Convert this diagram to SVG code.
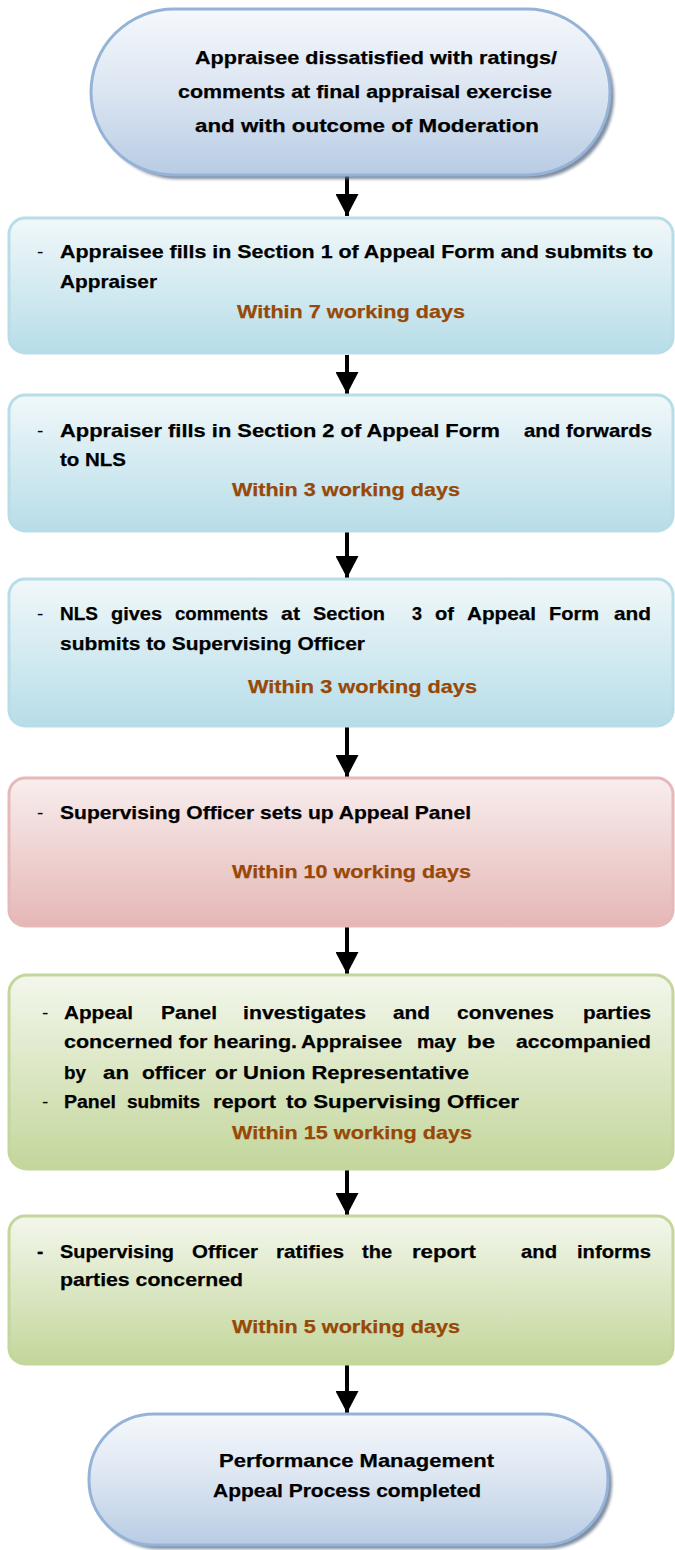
<svg xmlns="http://www.w3.org/2000/svg" width="675" height="1550" viewBox="0 0 675 1550">
<style>
  text { font-family: "Liberation Sans", Arial, sans-serif; font-size: 19px; font-weight: bold; fill: #000; stroke: #000; stroke-width: 0.25; }
  .due { fill: #984807; stroke: #984807; }
  .dash { font-weight: normal; stroke-width: 0; }
  .pill { fill: url(#gPill); stroke: #95b3d7; stroke-width: 3; }
  .blue { fill: url(#gBlue); stroke: #b7dde8; stroke-width: 3; }
  .pink { fill: url(#gPink); stroke: #e6b9b8; stroke-width: 3; }
  .green { fill: url(#gGreen); stroke: #c3d69b; stroke-width: 3; }
  .shadow { fill: #5f6f86; opacity: 0.8; filter: url(#blur); }
  .conn { stroke: #000; stroke-width: 4; fill: none; marker-end: url(#arrow); }
</style>
<defs>
  <linearGradient id="gPill" x1="0" y1="0" x2="0" y2="1">
    <stop offset="0" stop-color="#f5f8fc"/>
    <stop offset="0.5" stop-color="#dbe5f1"/>
    <stop offset="1" stop-color="#b8cce4"/>
  </linearGradient>
  <linearGradient id="gBlue" x1="0" y1="0" x2="0" y2="1">
    <stop offset="0" stop-color="#f1f8fa"/>
    <stop offset="1" stop-color="#b7dde8"/>
  </linearGradient>
  <linearGradient id="gPink" x1="0" y1="0" x2="0" y2="1">
    <stop offset="0" stop-color="#f8eeee"/>
    <stop offset="1" stop-color="#e5b7b6"/>
  </linearGradient>
  <linearGradient id="gGreen" x1="0" y1="0" x2="0" y2="1">
    <stop offset="0" stop-color="#f3f7ec"/>
    <stop offset="1" stop-color="#c3d69b"/>
  </linearGradient>
  <filter id="blur" x="-5%" y="-5%" width="110%" height="115%">
    <feGaussianBlur stdDeviation="1.5"/>
  </filter>
  <marker id="arrow" markerUnits="userSpaceOnUse" markerWidth="24" markerHeight="23" refX="23" refY="12" orient="auto" viewBox="0 0 23 24">
    <path d="M0,0 L23,12 L0,24 Z" fill="#000"/>
  </marker>
</defs>

<g id="connectors">
  <line class="conn" x1="347" y1="176" x2="347" y2="216"/>
  <line class="conn" x1="347" y1="355" x2="347" y2="394"/>
  <line class="conn" x1="347" y1="532" x2="347" y2="578"/>
  <line class="conn" x1="347" y1="727" x2="347" y2="777"/>
  <line class="conn" x1="347" y1="927" x2="347" y2="974"/>
  <line class="conn" x1="347" y1="1170" x2="347" y2="1215"/>
  <line class="conn" x1="347" y1="1365" x2="347" y2="1413"/>
</g>

<g id="start">
  <rect class="shadow" x="95" y="13" width="519" height="166" rx="83" ry="83"/>
  <rect class="pill" x="91" y="9" width="519" height="166" rx="83" ry="83"/>
  <text x="195" y="64" textLength="362" lengthAdjust="spacingAndGlyphs">Appraisee dissatisfied with ratings/</text>
  <text x="178" y="98" textLength="374" lengthAdjust="spacingAndGlyphs">comments at final appraisal exercise</text>
  <text x="195" y="132" textLength="344" lengthAdjust="spacingAndGlyphs">and with outcome of Moderation</text>
</g>

<g id="step1">
  <rect class="blue" x="9" y="218" width="664" height="135" rx="16" ry="16"/>
  <text class="dash" x="37" y="258">-</text>
  <text x="60" y="258" textLength="593" lengthAdjust="spacingAndGlyphs">Appraisee fills in Section 1 of Appeal Form and submits to</text>
  <text x="60" y="288" textLength="97" lengthAdjust="spacingAndGlyphs">Appraiser</text>
  <text class="due" x="237" y="318" textLength="228" lengthAdjust="spacingAndGlyphs">Within 7 working days</text>
</g>

<g id="step2">
  <rect class="blue" x="9" y="395" width="664" height="136" rx="16" ry="16"/>
  <text class="dash" x="37" y="437">-</text>
  <text x="60" y="437" textLength="440" lengthAdjust="spacingAndGlyphs">Appraiser fills in Section 2 of Appeal Form</text>
  <text x="524" y="437" textLength="128" lengthAdjust="spacingAndGlyphs">and forwards</text>
  <text x="60" y="466" textLength="66" lengthAdjust="spacingAndGlyphs">to NLS</text>
  <text class="due" x="232" y="496" textLength="228" lengthAdjust="spacingAndGlyphs">Within 3 working days</text>
</g>

<g id="step3">
  <rect class="blue" x="9" y="579" width="664" height="147" rx="16" ry="16"/>
  <text class="dash" x="37" y="620">-</text>
  <text x="60" y="620" textLength="38" lengthAdjust="spacingAndGlyphs">NLS</text>
  <text x="111" y="620" textLength="51" lengthAdjust="spacingAndGlyphs">gives</text>
  <text x="175" y="620" textLength="93" lengthAdjust="spacingAndGlyphs">comments</text>
  <text x="281" y="620" textLength="19" lengthAdjust="spacingAndGlyphs">at</text>
  <text x="313" y="620" textLength="72" lengthAdjust="spacingAndGlyphs">Section</text>
  <text x="412" y="620" textLength="10" lengthAdjust="spacingAndGlyphs">3</text>
  <text x="435" y="620" textLength="19" lengthAdjust="spacingAndGlyphs">of</text>
  <text x="467" y="620" textLength="69" lengthAdjust="spacingAndGlyphs">Appeal</text>
  <text x="549" y="620" textLength="50" lengthAdjust="spacingAndGlyphs">Form</text>
  <text x="614" y="620" textLength="37" lengthAdjust="spacingAndGlyphs">and</text>
  <text x="60" y="650" textLength="305" lengthAdjust="spacingAndGlyphs">submits to Supervising Officer</text>
  <text class="due" x="248" y="693" textLength="229" lengthAdjust="spacingAndGlyphs">Within 3 working days</text>
</g>

<g id="step4">
  <rect class="pink" x="9" y="778" width="664" height="148" rx="16" ry="16"/>
  <text class="dash" x="37" y="819">-</text>
  <text x="60" y="819" textLength="411" lengthAdjust="spacingAndGlyphs">Supervising Officer sets up Appeal Panel</text>
  <text class="due" x="232" y="878" textLength="239" lengthAdjust="spacingAndGlyphs">Within 10 working days</text>
</g>

<g id="step5">
  <rect class="green" x="9" y="975" width="664" height="194" rx="18" ry="18"/>
  <text class="dash" x="42" y="1019">-</text>
  <text x="64" y="1019" textLength="69" lengthAdjust="spacingAndGlyphs">Appeal</text>
  <text x="161" y="1019" textLength="56" lengthAdjust="spacingAndGlyphs">Panel</text>
  <text x="243" y="1019" textLength="123" lengthAdjust="spacingAndGlyphs">investigates</text>
  <text x="393" y="1019" textLength="37" lengthAdjust="spacingAndGlyphs">and</text>
  <text x="457" y="1019" textLength="97" lengthAdjust="spacingAndGlyphs">convenes</text>
  <text x="583" y="1019" textLength="68" lengthAdjust="spacingAndGlyphs">parties</text>
  <text x="64" y="1048" textLength="233" lengthAdjust="spacingAndGlyphs">concerned for hearing.</text>
  <text x="301" y="1048" textLength="101" lengthAdjust="spacingAndGlyphs">Appraisee</text>
  <text x="417" y="1048" textLength="39" lengthAdjust="spacingAndGlyphs">may</text>
  <text x="467" y="1048" textLength="28" lengthAdjust="spacingAndGlyphs">be</text>
  <text x="516" y="1048" textLength="135" lengthAdjust="spacingAndGlyphs">accompanied</text>
  <text x="64" y="1079" textLength="22" lengthAdjust="spacingAndGlyphs">by</text>
  <text x="103" y="1079" textLength="26" lengthAdjust="spacingAndGlyphs">an</text>
  <text x="142" y="1079" textLength="64" lengthAdjust="spacingAndGlyphs">officer</text>
  <text x="215" y="1079" textLength="254" lengthAdjust="spacingAndGlyphs">or Union Representative</text>
  <text class="dash" x="42" y="1108">-</text>
  <text x="64" y="1108" textLength="52" lengthAdjust="spacingAndGlyphs">Panel</text>
  <text x="127" y="1108" textLength="73" lengthAdjust="spacingAndGlyphs">submits</text>
  <text x="213" y="1108" textLength="63" lengthAdjust="spacingAndGlyphs">report</text>
  <text x="286" y="1108" textLength="233" lengthAdjust="spacingAndGlyphs">to Supervising Officer</text>
  <text class="due" x="232" y="1139" textLength="240" lengthAdjust="spacingAndGlyphs">Within 15 working days</text>
</g>

<g id="step6">
  <rect class="green" x="9" y="1216" width="664" height="148" rx="16" ry="16"/>
  <text x="37" y="1258">-</text>
  <text x="60" y="1258" textLength="114" lengthAdjust="spacingAndGlyphs">Supervising</text>
  <text x="192" y="1258" textLength="66" lengthAdjust="spacingAndGlyphs">Officer</text>
  <text x="276" y="1258" textLength="68" lengthAdjust="spacingAndGlyphs">ratifies</text>
  <text x="362" y="1258" textLength="30" lengthAdjust="spacingAndGlyphs">the</text>
  <text x="412" y="1258" textLength="64" lengthAdjust="spacingAndGlyphs">report</text>
  <text x="521" y="1258" textLength="36" lengthAdjust="spacingAndGlyphs">and</text>
  <text x="577" y="1258" textLength="74" lengthAdjust="spacingAndGlyphs">informs</text>
  <text x="60" y="1286" textLength="183" lengthAdjust="spacingAndGlyphs">parties concerned</text>
  <text class="due" x="232" y="1333" textLength="228" lengthAdjust="spacingAndGlyphs">Within 5 working days</text>
</g>

<g id="end">
  <rect class="shadow" x="93" y="1418" width="519" height="131" rx="65" ry="65"/>
  <rect class="pill" x="89" y="1414" width="519" height="131" rx="65" ry="65"/>
  <text x="219" y="1467" textLength="275" lengthAdjust="spacingAndGlyphs">Performance Management</text>
  <text x="213" y="1497" textLength="268" lengthAdjust="spacingAndGlyphs">Appeal Process completed</text>
</g>
</svg>
